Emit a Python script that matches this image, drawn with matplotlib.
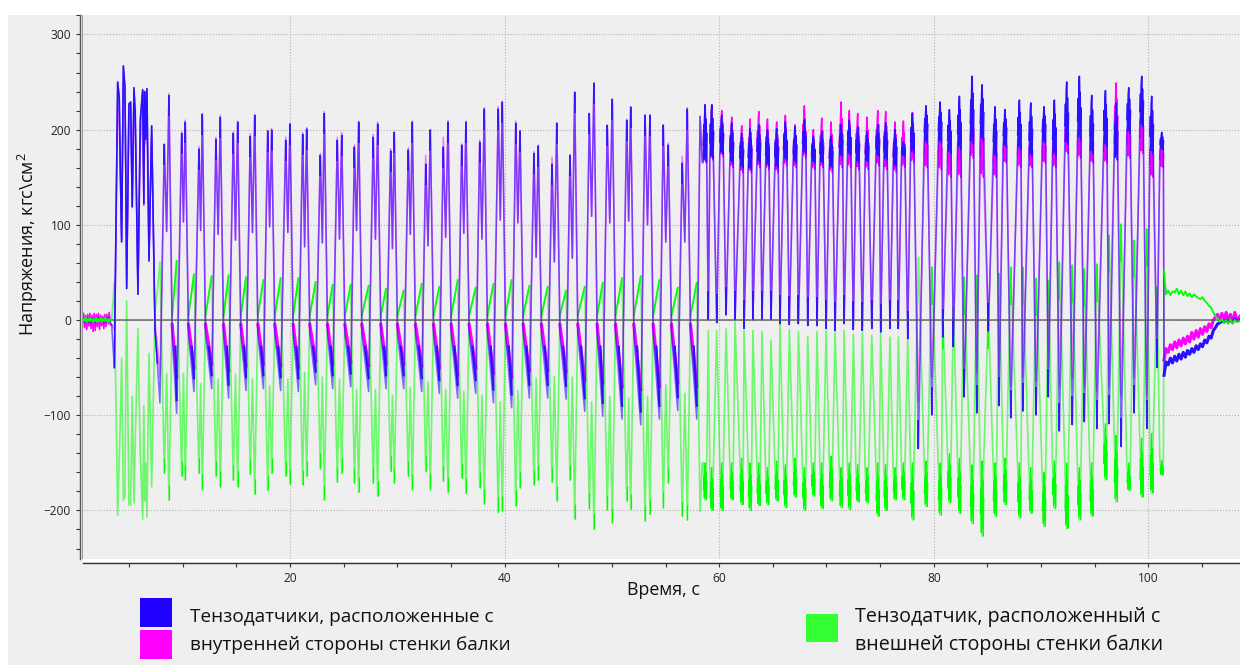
import matplotlib
matplotlib.use("Agg")
import matplotlib.pyplot as plt
from matplotlib.patches import Rectangle

plt.rcParams['font.family'] = ['Open Sans', 'DejaVu Sans']
plt.rcParams['mathtext.default'] = 'regular'

# quiet start, before the first load
base_t = [0.75,0.85,0.95,1.05,1.15,1.25,1.35,1.45,1.55,1.65,1.75,1.85,1.95,2.05,2.15,2.25,2.35,2.45,2.55,2.65,2.75,2.85,2.95,3.05,3.15,3.25,3.38]
base_magenta = [7,-8,5,-10,6,-6,7,-9,5,-12,7,-11,6,-7,7,-10,5,-6,4,-9,6,-7,6,-4,8,-5,-5]
base_blue = [2,-3,1,-2,2,-2,1,-3,2,-1,2,-3,1,-2,3,-2,1,-1,2,-3,1,-2,2,-1,3,-2,-5]
base_green = [1,-1,2,-2,1,-1,2,-1,1,-2,1,-1,2,-2,1,-1,2,-2,1,-1,2,-1,1,-2,1,-1,0]

# first irregular run of loads
start_t = [3.63,3.72,3.94,4.09,4.20,4.31,4.47,4.62,4.70,4.78,4.99,5.15,5.30,5.46,5.58,5.83,6.05,6.27,6.38,6.45,6.55,6.67,6.86,7.11,7.42,7.64]
start_blue = [-50,40,250,234,151,82,267,245,150,33,227,229,119,244,217,27,210,242,122,240,190,243,62,204,-10,-45]
start_magenta = [-10,30,230,200,150,85,250,230,150,40,215,220,118,225,200,35,185,225,120,200,185,205,65,195,-3,-25]
start_green = [40,-40,-205,-143,-100,-40,-189,-185,-60,20,-194,-194,-80,-192,-129,-9,-142,-209,-90,-190,-150,-207,-35,-175,8,30]

# regular double-peak cycles, t = 8..57
low_t = [7.88,9.44,11.05,12.70,14.28,15.90,17.52,19.13,20.78,22.39,23.98,25.66,27.33,28.95,30.60,
         32.28,33.92,35.63,37.31,38.96,40.66,42.31,44.02,45.73,47.47,49.15,50.95,52.69,54.43,56.14,57.91]
p1_t = [8.29,9.90,11.52,13.10,14.72,16.30,17.92,19.60,21.18,22.83,24.41,26.01,27.76,29.38,31.03,
        32.65,34.29,36.00,37.68,39.41,41.04,42.74,44.42,46.10,47.90,49.57,51.38,53.09,54.79,56.56]
p2_t = [8.72,10.24,11.83,13.51,15.12,16.71,18.29,20.00,21.55,23.20,24.82,26.40,28.17,29.72,31.40,
        33.08,34.73,36.40,38.11,39.79,41.44,43.14,44.86,46.53,48.33,50.04,51.75,53.55,55.26,57.03]
blue_p1 = [185,196,180,190,196,193,199,189,195,173,189,182,192,178,179,
           164,182,184,187,222,207,175,164,173,217,205,210,215,205,165]
blue_mid = [93,103,94,90,84,92,98,92,77,81,85,94,85,75,90,
            78,87,91,85,105,102,66,61,65,109,102,104,100,82,82]
blue_p2 = [236,208,216,213,208,215,200,206,201,217,194,208,206,197,208,
           200,208,208,222,229,199,183,207,239,249,232,224,215,184,222]
blue_low = [-87,-98,-75,-72,-82,-74,-72,-74,-75,-68,-72,-70,-75,-72,-72,
            -75,-77,-82,-77,-87,-92,-82,-82,-83,-96,-101,-104,-110,-104,-95,-104]
magenta_p1 = [183,198,182,192,198,196,199,192,197,175,192,184,195,180,181,
              173,192,185,189,224,209,177,171,174,203,204,211,216,205,172]
magenta_p2 = [238,210,217,215,209,216,201,207,202,219,197,209,208,198,209,
              200,210,209,223,230,199,184,207,240,249,232,224,216,186,223]
magenta_low = [-60,-72,-62,-58,-65,-60,-58,-60,-62,-55,-58,-56,-60,-58,-58,
               -60,-62,-70,-62,-68,-72,-65,-65,-66,-75,-78,-82,-85,-82,-78,-82]
green_p1 = [-161,-164,-161,-164,-168,-162,-179,-164,-173,-156,-170,-171,-171,-159,-164,
            -159,-169,-166,-176,-202,-195,-173,-170,-168,-198,-200,-190,-211,-197,-206]
green_mid = [-56,-56,-67,-62,-57,-62,-69,-62,-55,-60,-62,-73,-73,-79,-71,
             -65,-73,-75,-79,-86,-74,-61,-59,-60,-86,-80,-82,-80,-68,-77]
green_p2 = [-189,-168,-178,-175,-175,-183,-161,-172,-164,-189,-161,-181,-185,-171,-178,
            -178,-181,-182,-193,-201,-176,-168,-190,-209,-220,-213,-199,-204,-171,-210]
green_high = [61,62,48,46,47,45,42,44,44,40,37,37,36,33,31,
              38,35,42,34,38,42,36,35,31,35,39,44,46,42,34,39]

# fast plateau cycles, t = 58..101
plat_t = [58.69,59.31,60.24,61.17,62.10,62.88,63.69,64.50,65.36,66.17,67.07,67.94,68.78,69.56,70.43,
          71.36,72.13,72.91,73.78,74.78,75.52,76.39,77.17,78.01,79.28,80.59,81.46,82.39,83.57,84.50,
          85.71,86.64,87.98,89.04,90.28,91.24,92.39,93.57,94.72,96.00,96.99,98.17,99.38,100.31,101.25]
plat_low_t = [58.99,59.77,60.64,61.48,62.32,63.14,63.99,64.83,65.67,66.54,67.39,68.25,69.12,69.97,70.80,
              71.64,72.51,73.35,74.22,75.05,75.92,76.70,77.57,78.57,79.81,80.83,81.83,82.82,84.00,85.09,
              86.08,87.17,88.29,89.53,90.68,91.71,92.92,94.04,95.19,96.34,97.46,98.67,99.85,100.80]
plat_blue_hi = [226,226,215,207,196,201,205,200,201,208,203,210,193,198,193,
                205,210,203,198,205,207,200,187,217,225,229,221,235,256,247,
                224,221,231,228,224,231,250,256,236,241,228,244,256,235,197]
plat_blue_lo = [166,170,175,165,160,158,165,162,160,168,165,175,165,165,160,
                172,173,165,166,172,168,161,172,175,186,186,175,179,185,189,
                172,182,179,172,186,172,184,189,175,182,168,196,203,175,179]
plat_blue_low = [0,-3,5,0,-9,0,0,0,-4,-5,-4,-6,-6,-9,-11,
                 -4,-10,-11,-9,-13,-9,-9,-20,-135,-100,-18,-28,-81,-98,-12,
                 -90,-103,-96,-100,-81,-117,-110,-107,-114,-109,-133,-98,-114,-50]
plat_magenta_hi = [226,226,220,213,204,211,219,211,208,215,205,225,200,212,208,
                   229,220,217,213,220,219,208,209,218,207,203,203,207,231,231,
                   200,200,207,196,200,203,217,214,207,207,249,217,231,196,189]
plat_magenta_lo = [165,168,172,160,155,155,160,158,155,162,160,170,158,160,155,
                   160,160,158,158,162,158,155,160,165,160,158,150,150,170,150,
                   150,165,160,160,165,160,175,170,165,165,180,170,175,150,160]
plat_magenta_low = [2,0,6,2,-4,2,2,2,-1,-2,-1,-3,-3,-5,-6,
                    -2,-5,-6,-5,-7,-5,-5,-10,-85,-60,-12,-18,-80,-55,-8,
                    -60,-70,-60,-65,-50,-70,-60,-70,-75,-70,-80,-60,-80,-32]
plat_green_lo = [-189,-200,-200,-189,-194,-200,-195,-194,-190,-197,-186,-200,-185,-198,-190,
                 -197,-199,-191,-192,-206,-200,-189,-189,-210,-196,-205,-192,-203,-214,-227,
                 -206,-194,-208,-203,-217,-198,-219,-210,-206,-168,-191,-179,-186,-182,-163]
plat_green_hi = [-150,-155,-150,-150,-145,-150,-150,-155,-148,-152,-145,-155,-150,-150,-143,
                 -155,-150,-152,-155,-150,-152,-155,-150,-150,-148,-150,-140,-145,-152,-148,
                 -150,-145,-150,-155,-160,-148,-150,-155,-150,-109,-121,-150,-124,-119,-147]
plat_green_high = [-11,-11,-9,-2,-11,-11,-12,-21,-4,-10,-12,-17,-12,-11,-12,
                   -11,-15,-13,-16,-13,-18,-18,-21,66,56,10,14,45,47,10,
                   49,56,56,44,42,61,58,54,59,89,101,84,96,35]

# recovery after the last load
tail_t = [101.46,101.65,101.85,102.05,102.25,102.45,102.65,102.85,103.05,103.25,103.45,103.65,
          103.85,104.05,104.25,104.45,104.65,104.85,105.05,105.25,105.45,105.65,105.85,106.05,
          106.25,106.45,106.65,106.85,107.05,107.25,107.45,107.65,107.85,108.05,108.25,108.54]
tail_blue = [-58,-44,-47,-40,-45,-38,-43,-36,-41,-34,-39,-32,-36,-30,-34,-27,-31,-25,
             -28,-21,-24,-17,-19,-11,-8,-4,-3,-1,-2,0,-2,0,-1,1,-1,0]
tail_magenta = [-42,-30,-34,-26,-31,-23,-29,-21,-27,-19,-25,-17,-23,-13,-20,-11,-18,-9,
                -15,-7,-12,-4,-8,0,3,6,-2,7,0,8,-1,6,-3,8,0,4]
tail_green = [52,27,31,26,30,29,33,27,31,26,30,25,28,24,27,25,23,22,
              24,20,18,15,13,8,4,2,-2,1,-3,0,-4,1,-3,0,-2,-1]

# axis texts
x_ticks = [20, 40, 60, 80, 100]
x_minor = [5,10,15,25,30,35,45,50,55,65,70,75,85,90,95,105]
y_ticks = [-200, -100, 0, 100, 200, 300]
y_minor = [-240,-220,-180,-160,-140,-120,-80,-60,-40,-20,20,40,60,80,120,140,160,180,220,240,260,280,320]
x_title = "Время, с"
y_title = "Напряжения, кгс\\см$^{2}$"
legend_left = ["Тензодатчики, расположенные с", "внутренней стороны стенки балки"]
legend_right = ["Тензодатчик, расположенный с", "внешней стороны стенки балки"]

BLUE = "#2a10ff"
MAGENTA = "#ff00ff"
GREEN = "#00ff00"
W, H = 1240.0, 665.0


def trace(base, start, p1, mid, p2, after, low, plat_in, plat_hi, plat_out, plat_low, tail):
    xs = list(base_t) + list(start_t)
    ys = list(base) + list(start)
    for i in range(len(p1_t)):
        xs += [low_t[i], p1_t[i], (p1_t[i] + p2_t[i]) / 2, p2_t[i], p2_t[i] + 0.3]
        ys += [low[i], p1[i], mid[i], p2[i], after]
    xs += [low_t[-1], 58.22, 58.42]
    ys += [low[-1], plat_hi[0] - 12, plat_in[0]]
    for i in range(len(plat_t)):
        xs += [plat_t[i] - 0.18, plat_t[i], plat_t[i] + 0.15]
        ys += [plat_in[i], plat_hi[i], plat_out[i]]
        if i < len(plat_low_t):
            xs.append(plat_low_t[i])
            ys.append(plat_low[i])
    return xs + tail_t, ys + tail


def plateau(ax, lo, hi, color, z, lw=1.05):
    # jagged top of each fast cycle, between the read low and high of that cycle
    for i in range(len(plat_t)):
        t = plat_t[i]
        d = hi[i] - lo[i]
        ax.plot([t - 0.17, t - 0.12, t - 0.08, t - 0.04, t, t + 0.04, t + 0.08, t + 0.12, t + 0.17],
                [lo[i] + 0.3 * d, hi[i] - 0.35 * d, lo[i] + 0.05 * d, hi[i] - 0.15 * d, hi[i],
                 lo[i] + 0.1 * d, hi[i] - 0.25 * d, lo[i], hi[i] - 0.5 * d],
                color=color, lw=lw, zorder=z)


def rect(fig, x0, y0, x1, y1, color, z=0):
    fig.add_artist(Rectangle((x0 / W, 1 - y1 / H), (x1 - x0) / W, (y1 - y0) / H,
                             transform=fig.transFigure, color=color, lw=0, zorder=z))


fig = plt.figure(figsize=(12.4, 6.65), dpi=100, facecolor="white")
rect(fig, 8, 15, W, H, "#efefef", -5)
rect(fig, 83, 559, W, 562, "white", -4)
rect(fig, 81.6, 15, 83.4, 559, "#9a9a9a", -4)

ax = fig.add_axes([83 / W, 1 - 559 / H, (W - 83) / W, (559 - 15) / H])
ax.patch.set_alpha(0)
ax.set_xlim(0.71, 108.54)
ax.set_ylim(-251, 320.4)

ax.grid(True, which="major", color="#b0b0b0", linestyle=":", linewidth=0.8)
ax.set_axisbelow(True)

gx, gy = trace(base_green, start_green, green_p1, green_mid, green_p2, 5, green_high,
               plat_green_hi, plat_green_lo, plat_green_hi, plat_green_high, tail_green)
mx, my = trace(base_magenta, start_magenta, magenta_p1, blue_mid, magenta_p2, -5, magenta_low,
               plat_magenta_lo, plat_magenta_hi, plat_magenta_lo, plat_magenta_low, tail_magenta)
bx, by = trace(base_blue, start_blue, blue_p1, blue_mid, blue_p2, -15, blue_low,
               plat_blue_lo, plat_blue_hi, plat_blue_lo, plat_blue_low, tail_blue)

# green: thin trace, denser near the turning points
ax.plot(gx, gy, color=GREEN, lw=1.2, alpha=0.55, zorder=2)
for i in range(len(p1_t)):
    ax.plot([p2_t[i] + 0.3, low_t[i + 1]], [5, green_high[i + 1]], color=GREEN, lw=1.2, zorder=2)
    ax.vlines([p1_t[i], p2_t[i]], [green_p1[i], green_p2[i]],
              [green_p1[i] + 16, green_p2[i] + 16], color=GREEN, lw=0.9, zorder=2)
plateau(ax, plat_green_lo, plat_green_hi, GREEN, 2, lw=0.75)
ax.plot(tail_t, tail_green, color=GREEN, lw=1.2, zorder=6)
ax.plot(base_t, base_green, color=GREEN, lw=1.4, zorder=6)
for i in range(24, len(plat_low_t)):
    ax.vlines(plat_low_t[i], plat_green_high[i] - 40, plat_green_high[i], color=GREEN, lw=1.2, zorder=2)

# magenta
ax.plot(mx, my, color=MAGENTA, lw=1.15, alpha=0.5, zorder=3)
for i in range(len(p1_t)):
    ax.plot([p2_t[i] + 0.3, low_t[i + 1]], [-5, magenta_low[i + 1] + 12], color=MAGENTA, lw=2.3, zorder=3)
plateau(ax, plat_magenta_lo, plat_magenta_hi, MAGENTA, 3)
ax.plot(base_t, base_magenta, color=MAGENTA, lw=1.0, zorder=3)
ax.plot(tail_t, tail_magenta, color=MAGENTA, lw=2.2, zorder=3)

# blue on top, semi-transparent so the shared flanks go violet
ax.plot(bx, by, color=BLUE, lw=1.15, alpha=0.6, zorder=4)
for i in range(len(p1_t)):
    ax.plot([p2_t[i] + 0.6, low_t[i + 1]], [-28, blue_low[i + 1] + 14], color=BLUE, lw=1.6, zorder=4)
    ax.vlines([p1_t[i], p2_t[i]], [blue_p1[i] - 22, blue_p2[i] - 22],
              [blue_p1[i], blue_p2[i]], color=BLUE, lw=1.2, zorder=4)
plateau(ax, plat_blue_lo, plat_blue_hi, BLUE, 4)
ax.vlines(plat_low_t, plat_blue_low, [v + 30 for v in plat_blue_low], color=BLUE, lw=1.3, zorder=4)
ax.plot(start_t, start_blue, color=BLUE, lw=1.1, zorder=4)
ax.plot(tail_t, tail_blue, color=BLUE, lw=2.2, zorder=4)

ax.axhline(0, color="#555555", lw=1.1, alpha=0.85, zorder=5)

for s in ["top", "right"]:
    ax.spines[s].set_visible(False)
ax.spines["left"].set_position(("outward", 2.4))
ax.spines["bottom"].set_position(("outward", 2.9))
ax.spines["left"].set_color("#555555")
ax.spines["bottom"].set_color("#333333")
ax.spines["left"].set_linewidth(1.0)
ax.spines["bottom"].set_linewidth(1.0)

ax.set_xticks(x_ticks)
ax.set_xticks(x_minor, minor=True)
ax.set_yticks(y_ticks)
ax.set_yticks(y_minor, minor=True)
ax.tick_params(axis="both", which="major", length=3.2, width=0.8, color="#333333",
               labelsize=8.6, labelcolor="#222222", pad=3)
ax.tick_params(axis="both", which="minor", length=3.2, width=0.8, color="#333333")

fig.text(663 / W, 1 - 590 / H, x_title, fontsize=12.8, ha="center", va="center", color="#111111")
fig.text(28 / W, 1 - 244 / H, y_title, fontsize=13, rotation=90, ha="center", va="center", color="#111111")

rect(fig, 140, 598, 172, 627, "#2000ff", 6)
rect(fig, 140, 630, 172, 659, "#ff00ff", 6)
rect(fig, 806, 614, 838, 642, "#33ff33", 6)
fig.text(190 / W, 1 - 617 / H, legend_left[0], fontsize=13.7, va="center", color="#111111")
fig.text(190 / W, 1 - 645 / H, legend_left[1], fontsize=13.7, va="center", color="#111111")
fig.text(855 / W, 1 - 617 / H, legend_right[0], fontsize=14.2, va="center", color="#111111")
fig.text(855 / W, 1 - 645 / H, legend_right[1], fontsize=14.2, va="center", color="#111111")

fig.savefig("out.png", dpi=100, facecolor=fig.get_facecolor())
